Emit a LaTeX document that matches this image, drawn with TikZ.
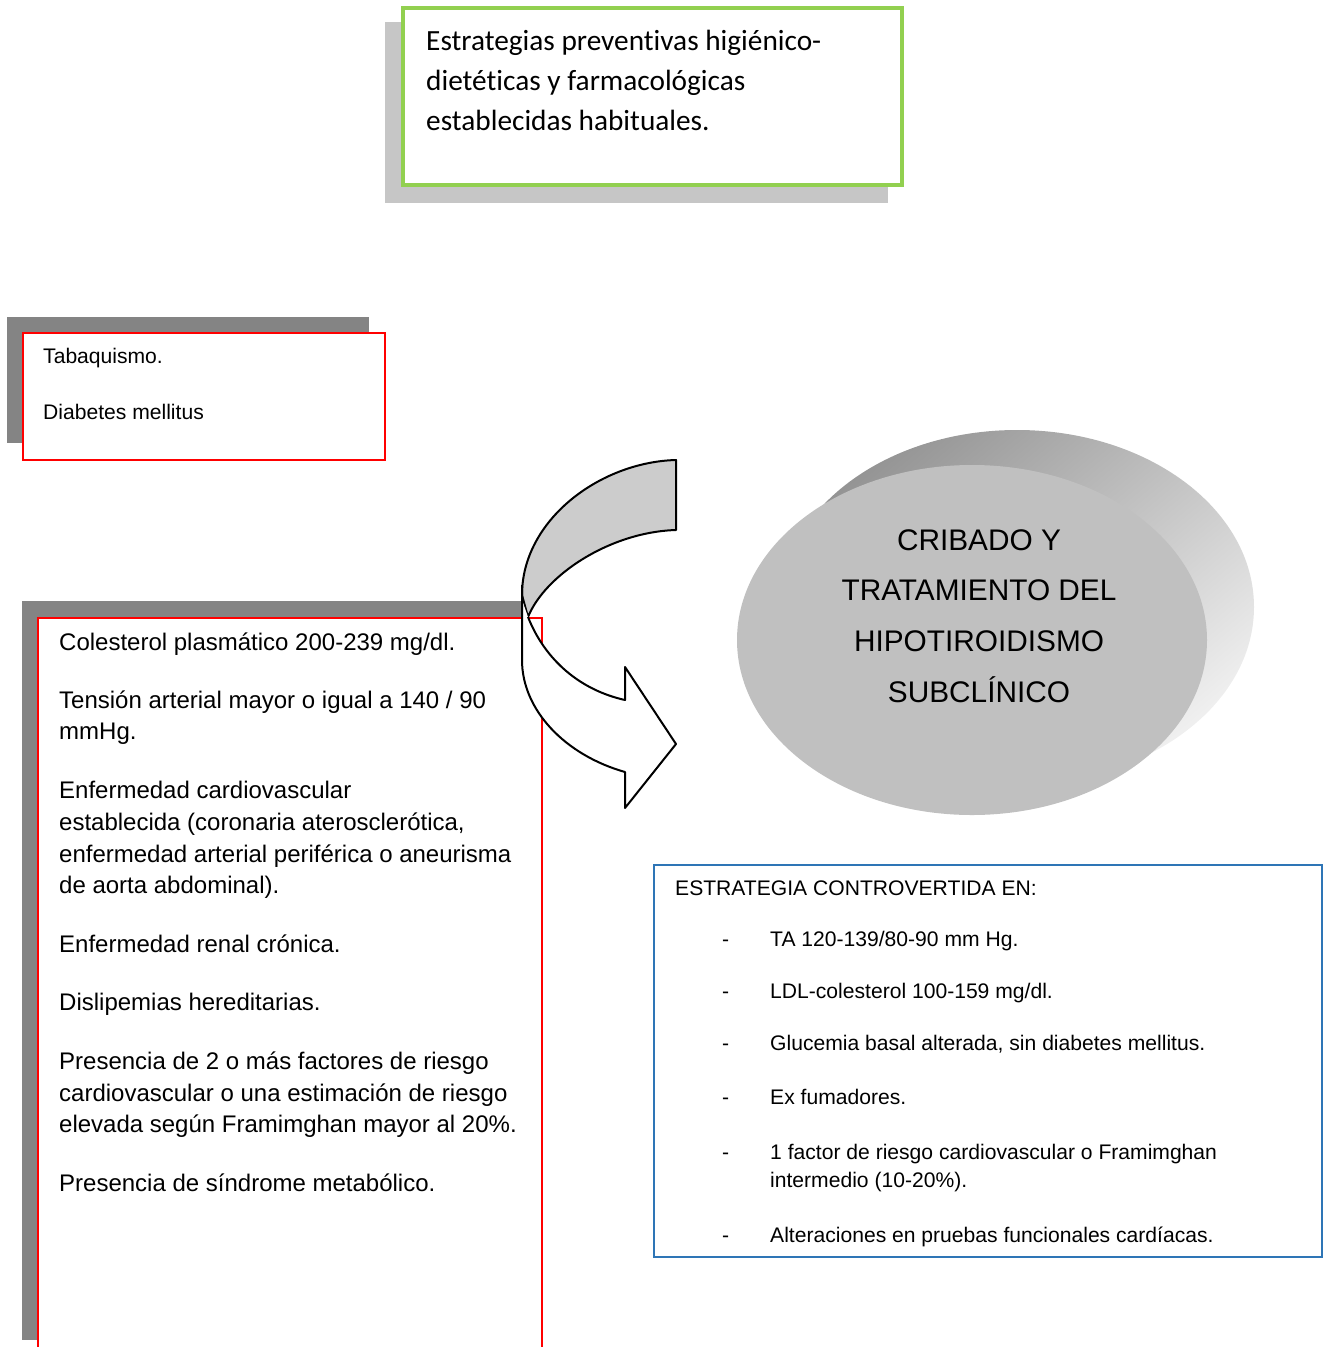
\documentclass[tikz,border=0pt]{standalone}
\usepackage{fontspec}
\setmainfont{Liberation Sans}
\newfontfamily\calibri[Ligatures=NoCommon]{Carlito}
\definecolor{boxgreen}{RGB}{146,208,80}
\definecolor{boxblue}{RGB}{46,117,182}
\definecolor{boxred}{RGB}{255,0,0}
\definecolor{shadowdark}{RGB}{132,132,132}
\definecolor{shadowlight}{RGB}{198,198,198}
\definecolor{arrowgray}{RGB}{204,204,204}
\definecolor{discgray}{RGB}{192,192,192}
\tikzset{
  line/.style={inner sep=0pt, anchor=base west},
  topline/.style={line, font=\calibri\fontsize{29.3}{35}\selectfont},
  riskline/.style={line, font=\fontsize{24}{28}\selectfont},
  smallline/.style={line, font=\fontsize{21.1}{25}\selectfont},
  discline/.style={inner sep=0pt, anchor=base, font=\fontsize{29.8}{34}\selectfont},
  arrowline/.style={line width=2pt, line join=round}
}
\begin{document}
\begin{tikzpicture}[x=1pt,y=-1pt]
  \useasboundingbox (0,0) rectangle (1323,1347);
  \clip (0,0) rectangle (1323,1347);

  % top box
  \fill[shadowlight] (385,22) rectangle (888,203);
  \draw[boxgreen, line width=4pt, fill=white] (403,8) rectangle (902,185);
  \foreach \y/\t [count=\i] in {50/{Estrategias preventivas higiénico-},
      90/{dietéticas y farmacológicas}, 130/{establecidas habituales.}}
    \node[topline] (hab\i) at (426,\y) {\t};

  % small red box
  \fill[shadowdark] (7,317) rectangle (369,443);
  \draw[boxred, line width=2pt, fill=white] (23,333) rectangle (385,460);
  \node[smallline] (tab) at (43,363) {Tabaquismo.};
  \node[smallline] (dm) at (43,419) {Diabetes mellitus};

  % large red box
  \fill[shadowdark] (22,601) rectangle (522,1340);
  \draw[boxred, line width=2pt, fill=white] (38,618) rectangle (542,1360);
  \foreach \y/\t [count=\i] in {
      650/{Colesterol plasmático 200-239 mg/dl.},
      708/{Tensión arterial mayor o igual a 140 / 90},
      739/{mmHg.},
      798/{Enfermedad cardiovascular},
      830/{establecida (coronaria aterosclerótica,},
      862/{enfermedad arterial periférica o aneurisma},
      893/{de aorta abdominal).},
      952/{Enfermedad renal crónica.},
      1010/{Dislipemias hereditarias.},
      1069/{Presencia de 2 o más factores de riesgo},
      1101/{cardiovascular o una estimación de riesgo},
      1132/{elevada según Framimghan mayor al 20\%.},
      1191/{Presencia de síndrome metabólico.}}
    \node[riskline] (risk\i) at (59,\y) {\t};

  % curved arrow
  \draw[arrowline, fill=arrowgray] (676,460) .. controls (600,462) and (522,520) .. (522,595)
    -- (528,617) .. controls (545,575) and (610,532) .. (676,530) -- cycle;
  \fill[white] (522,600) -- (522,660) .. controls (522,710) and (565,755) .. (625,772)
    -- (625,808) -- (676,744) -- (625,667) -- (625,700)
    .. controls (580,690) and (545,660) .. (528,617) -- cycle;
  \draw[arrowline] (522,585) -- (522,660) .. controls (522,710) and (565,755) .. (625,772)
    -- (625,808) -- (676,744) -- (625,667) -- (625,700)
    .. controls (580,690) and (545,660) .. (528,617);

  % disc
  \shade[top color=black!42, bottom color=black!6, shading angle=40]
    (1017,607) ellipse (237 and 177);
  \fill[discgray] (972,640) ellipse (235 and 175);
  \foreach \t [count=\i] in {CRIBADO Y, TRATAMIENTO DEL, HIPOTIROIDISMO, SUBCLÍNICO}
    \node[discline] (disc\i) at (979,{499.3+50.7*\i}) {\t};

  % blue box
  \draw[boxblue, line width=2pt, fill=white] (654,865) rectangle (1322,1257);
  \node[smallline] (contro) at (675,895) {ESTRATEGIA CONTROVERTIDA EN:};
  \foreach \y/\t [count=\i] in {
      946/{TA 120-139/80-90 mm Hg.},
      998/{LDL-colesterol 100-159 mg/dl.},
      1050/{Glucemia basal alterada, sin diabetes mellitus.},
      1104/{Ex fumadores.},
      1159/{1 factor de riesgo cardiovascular o Framimghan},
      1242/{Alteraciones en pruebas funcionales cardíacas.}} {
    \node[smallline] (dash\i) at (722,\y) {-};
    \node[smallline] (item\i) at (770,\y) {\t};
  }
  \node[smallline] (item5b) at (770,1187) {intermedio (10-20\%).};
\end{tikzpicture}
\end{document}
